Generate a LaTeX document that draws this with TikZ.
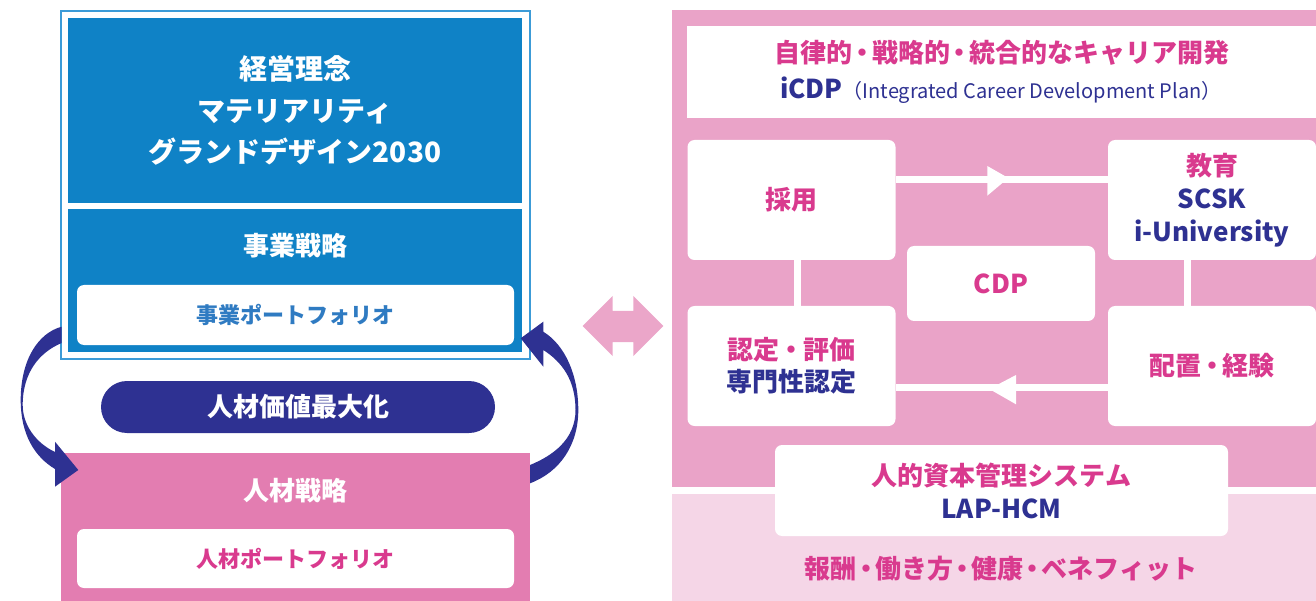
\documentclass[tikz,border=0pt]{standalone}
\usepackage{fontspec}
\setmainfont{Noto Sans CJK JP}
\usetikzlibrary{calc}
\definecolor{bfill}{HTML}{0F82C6}
\definecolor{bframe}{HTML}{3C9BD7}
\definecolor{btext}{HTML}{2F7BC2}
\definecolor{navy}{HTML}{2E3192}
\definecolor{lpink}{HTML}{E37DB1}
\definecolor{ptext}{HTML}{D93A8E}
\definecolor{rpink}{HTML}{EAA3C8}
\definecolor{lightp}{HTML}{F5D6E7}
\definecolor{darrow}{HTML}{EBA6C9}
\newcommand\myfs[2]{\fontsize{#1}{#2}\selectfont}
\newcommand\nd[1][0.1em]{\hspace{-#1}・\hspace{-#1}}
\begin{document}
\begin{tikzpicture}[x=1pt,y=-1pt,
  every node/.style={inner sep=0pt, outer sep=0pt, align=center, font=\bfseries\myfs{26}{33}},
  wbox/.style={fill=white, rounded corners=7pt},
  cellbox/.style={wbox, minimum width=208pt, minimum height=120pt},
  conn/.style={draw=white, line width=7pt},
  navyarrow/.style={fill=navy},
  ]
\useasboundingbox (0,0) rectangle (1316,601);

% ---------- left panel ----------
\draw[bframe, line width=1.5pt] (61,11) rectangle (530,359);
\node[fill=bfill, minimum width=454pt, minimum height=185pt, text=white,
      font=\bfseries\myfs{28}{41.5}] (mission) at (295,110.5)
      {経営理念\\マテリアリティ\\グランドデザイン2030};
\node[fill=bfill, minimum width=454pt, minimum height=143pt] (bizarea) at (295,280.5) {};
\node[text=white] (biz) at (295,246) {事業戦略};
\node[wbox, minimum width=437pt, minimum height=60pt, text=btext,
      font=\bfseries\myfs{22}{26}] (bizpf) at (295.5,315) {事業ポートフォリオ};

\node[fill=navy, rounded corners=26pt, minimum width=394pt, minimum height=52pt,
      text=white] (maxval) at (298,407) {人材価値最大化};

\node[fill=lpink, minimum width=469pt, minimum height=148pt] (hrarea) at (295.5,527) {};
\node[text=white] (hr) at (295,491) {人材戦略};
\node[wbox, minimum width=437pt, minimum height=59pt, text=ptext,
      font=\bfseries\myfs{22}{26}] (hrpf) at (295.5,558.5) {人材ポートフォリオ};

% curved arrows
\fill[navyarrow] (61.7,326.7) .. controls (38,333) and (20.7,360) .. (20.7,400)
  .. controls (20.7,435) and (35,457) .. (55,469) -- (55,486.7) -- (78.3,470)
  -- (55,441.7) -- (55,452) .. controls (36,443) and (22.7,425) .. (22.7,405)
  .. controls (22.7,372) and (40,352) .. (61.7,343) -- cycle;
\fill[navyarrow] (543.3,331.7) .. controls (565,345) and (578.3,375) .. (578.3,410)
  .. controls (578.3,445) and (560,472) .. (530,483.3) -- (530,465)
  .. controls (552,456) and (575.5,440) .. (575.5,410)
  .. controls (575.5,380) and (562,362) .. (543.3,350) -- (543.3,366.7)
  -- (520.7,338.3) -- (543.3,321.7) -- cycle;

% double arrow
\fill[darrow] (582.7,326) -- (612.7,296) -- (612.7,311) -- (633.3,311) -- (633.3,296)
  -- (663.3,326) -- (633.3,356) -- (633.3,342) -- (612.7,342) -- (612.7,356) -- cycle;

% ---------- right panel ----------
\fill[rpink] (672,10) rectangle (1316,487);
\fill[lightp] (672,494) rectangle (1316,601);

\node[fill=white, minimum width=629pt, minimum height=92pt] (icdpbox) at (1001.5,72) {};
\node[text=ptext] (icdptitle) at (1002,53) {自律的\nd[0.12em]戦略的\nd[0.12em]統合的なキャリア開発};
\node[text=navy] (icdp) at (1001,90) {iCDP{\mdseries\myfs{20}{24}（Integrated Career Development Plan）}};

\node[cellbox, text=ptext] (saiyo) at (791.5,200) {採用};
\node[cellbox, text=ptext] (kyoiku) at (1212,200) {教育\\\textcolor{navy}{SCSK}\\\textcolor{navy}{i-University}};
\node[wbox, minimum width=188pt, minimum height=75pt, text=ptext] (cdp) at (1001,283.5) {CDP};
\node[cellbox, text=ptext, font=\bfseries\myfs{26}{32}] (nintei) at (791.5,366) {認定\nd[0.05em]評価\\\textcolor{navy}{専門性認定}};
\node[cellbox, text=ptext] (haichi) at (1212,366) {配置\nd 経験};

\draw[conn] ([yshift=20pt]saiyo.east) -- ([yshift=20pt]kyoiku.west);
\fill[white] (987.3,166) -- (1008.3,178) -- (987.3,195.7) -- cycle;
\draw[conn] ([yshift=-21pt]haichi.west) -- ([yshift=-21pt]nintei.east);
\fill[white] (1016,375) -- (989.3,389) -- (1016,404.3) -- cycle;
\draw[conn] ([xshift=5.5pt]saiyo.south) -- ([xshift=5.5pt]nintei.north);
\draw[conn] ([xshift=-24.5pt]kyoiku.south) -- ([xshift=-24.5pt]haichi.north);

\node[wbox, minimum width=453pt, minimum height=91pt, text=ptext] (lap) at (1001.5,490.5)
  {人的資本管理システム\\\textcolor{navy}{LAP-HCM}};
\node[text=ptext] (benefit) at (1001,569) {報酬\nd[0.15em]働き方\nd[0.15em]健康\nd[0.15em]ベネフィット};
\end{tikzpicture}
\end{document}
